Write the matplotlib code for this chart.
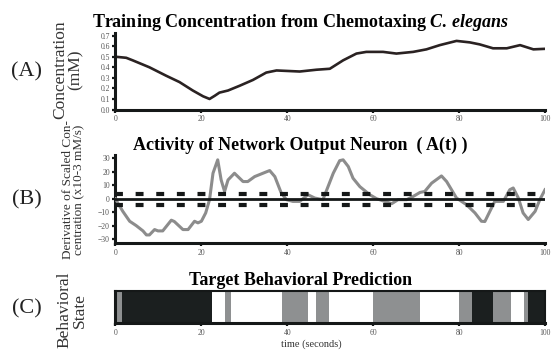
import matplotlib.pyplot as plt
import numpy as np

# panel A: training concentration (mM) vs time (s)
conc_t = [0, 2.5, 4.0, 7.9, 11.8, 14.9, 18.0, 20.4, 21.9, 23.1, 24.2, 26.2, 28.9, 32.0,
          35.1, 37.5, 42.9, 46.8, 49.9, 53.0, 56.1, 58.4, 62.3, 65.4, 69.3, 72.4,
          75.5, 79.4, 82.5, 84.8, 87.9, 91.1, 94.2, 97.3, 100]
conc_v = [0.50, 0.49, 0.466, 0.40, 0.32, 0.26, 0.18, 0.125, 0.10, 0.13, 0.16, 0.18, 0.225, 0.28,
          0.35, 0.37, 0.36, 0.377, 0.386, 0.466, 0.53, 0.546, 0.546, 0.53, 0.546, 0.57,
          0.61, 0.65, 0.636, 0.617, 0.58, 0.58, 0.61, 0.57, 0.575]

# panel B: output neuron activity (x10-3 mM/s)
act_t = [0, 0.5, 1.7, 3.3, 4.8, 6.4, 7.2, 7.9, 9.1, 9.9, 11.0, 13.0, 13.7, 15.7, 16.9,
         18.4, 19.2, 20.0, 21.0, 21.9, 22.7, 23.8, 24.6, 25.4, 26.2, 27.7, 29.7, 30.8,
         32.4, 35.1, 35.9, 37.1, 38.6, 39.8, 41.3, 42.9, 44.8, 46.4, 48.3, 50.7, 52.2,
         53.0, 54.2, 55.3, 56.9, 59.2, 60.8, 62.7, 64.3, 65.8, 67.8, 69.3, 70.9, 72.0,
         73.6, 75.9, 77.1, 79.4, 81.7, 83.7, 85.2, 86.0, 88.3, 90.3, 91.8, 92.6, 93.8,
         94.9, 96.1, 97.7, 98.8, 100]
act_v = [0, -3, -9.4, -16.8, -20, -24, -27, -27, -23, -24, -24, -16, -17, -23, -23,
         -16.8, -18, -16.8, -10.6, -0.7, 19, 29, 14, 5.4, 14, 19, 12.8, 12.8,
         16.5, 20, 21, 16.5, 4.2, -0.7, -2, -2, 3, 0.5, -0.7, 19, 28.4,
         29, 24, 15.3, 9, 3, 0, -2, -3.7, -0.7, -0.7, 1.7, 4.7, 5.4,
         11.6, 17, 12.8, 0.5, -4.4, -10.6, -16.8, -17, -2, -2, 6.7, 8, 0.5,
         -10.6, -15.5, -9.4, -0.7, 6.7]
upper_thr = 3.5
lower_thr = -4.5

# panel C: behavioral state segments (0 = black, 1 = gray, 2 = white)
seg_start = [0, 1.5, 22.4, 25.6, 26.9, 38.8, 44.8, 46.8, 49.7, 60, 71, 79.9, 82.9, 88, 92, 95, 96.1]
seg_end = [1.5, 22.4, 25.6, 26.9, 38.8, 44.8, 46.8, 49.7, 60, 71, 79.9, 82.9, 88, 92, 95, 96.1, 100]
seg_state = [1, 0, 2, 1, 2, 1, 2, 1, 2, 1, 2, 1, 0, 1, 2, 1, 0]
state_colors = ['#1b1f1f', '#8e9091', 'white']

xticks = [0, 20, 40, 60, 80, 100]

plt.rcParams['font.family'] = ['Liberation Serif', 'DejaVu Serif']
plt.rcParams['mathtext.fontset'] = 'custom'
plt.rcParams['mathtext.it'] = 'Liberation Serif:italic:bold'
plt.rcParams['mathtext.rm'] = 'Liberation Serif:bold'

fig = plt.figure(figsize=(5.51, 3.51), dpi=100)
left, width = 0.2096, 0.7795
axA = fig.add_axes([left, 0.688, width, 0.218])
axB = fig.add_axes([left, 0.307, width, 0.251])
axC = fig.add_axes([left, 0.0798, width, 0.091])

def style(ax):
    for s in ['top', 'right']:
        ax.spines[s].set_visible(False)
    for s in ['left', 'bottom']:
        ax.spines[s].set_linewidth(2.2)
        ax.spines[s].set_color('#151818')
    ax.tick_params(direction='out', length=2.5, width=1.6, color='#151818',
                   labelsize=5.5, labelcolor='#555555', pad=1.5)
    ax.set_xlim(0, 100)
    ax.set_xticks(xticks)

# (A)
style(axA)
axA.plot(conc_t, conc_v, color='#2a2222', lw=1.9)
axA.set_ylim(0, 0.725)
axA.set_yticks(np.arange(0, 0.71, 0.1))
axA.set_yticklabels(['%.1f' % v for v in np.arange(0, 0.71, 0.1)])
axA.set_title('Training Concentration from Chemotaxing $\\mathit{C.\\,elegans}$',
              fontsize=13, fontweight='bold', pad=4, x=0.43)

# (B)
style(axB)
axB.plot(act_t, act_v, color='#8c8c8c', lw=2.2, zorder=3)
axB.axhline(0, color='#151818', lw=2.0, zorder=4)
for thr in [upper_thr, lower_thr]:
    axB.axhline(thr, color='#151818', lw=3, dashes=(1.9, 3.05), zorder=4)
axB.set_ylim(-33.2, 32.5)
axB.set_yticks([-30, -20, -10, 0, 10, 20, 30])
axB.set_title('Activity of Network Output Neuron  ( A(t) )',
              fontsize=13, fontweight='bold', pad=4, x=0.43)

# (C)
style(axC)
for s in ['top', 'right']:
    axC.spines[s].set_visible(True)
    axC.spines[s].set_linewidth(1.5)
    axC.spines[s].set_color('#151818')
for a, b, st in zip(seg_start, seg_end, seg_state):
    axC.axvspan(a, b, color=state_colors[st], lw=0)
axC.set_ylim(0, 1)
axC.set_yticks([])
axC.set_title('Target Behavioral Prediction', fontsize=13, fontweight='bold', pad=4, x=0.43)
fig.text(311 / 551, 1 - 344 / 351, 'time (seconds)', fontsize=7.5, ha='center', va='center',
         color='#333333')

# y labels and panel letters
fig.text(68 / 551, 1 - 70 / 351, 'Concentration\n(mM)', rotation=90, fontsize=12.5,
         ha='center', va='center', linespacing=0.95, color='#333333')
fig.text(74 / 551, 1 - 190 / 351, 'Derivative of Scaled Con-\ncentration (x10-3 mM/s)',
         rotation=90, fontsize=9.5, ha='center', va='center', linespacing=0.95, color='#333333')
fig.text(72 / 551, 1 - 310 / 351, 'Behavioral\nState', rotation=90, fontsize=12.5,
         ha='center', va='center', linespacing=0.95, color='#333333')
for lbl, y in [('(A)', 72), ('(B)', 200), ('(C)', 309)]:
    fig.text(27 / 551, 1 - y / 351, lbl, fontsize=16, ha='center', va='center', color='#222222')

fig.savefig('out.png', dpi=100)
